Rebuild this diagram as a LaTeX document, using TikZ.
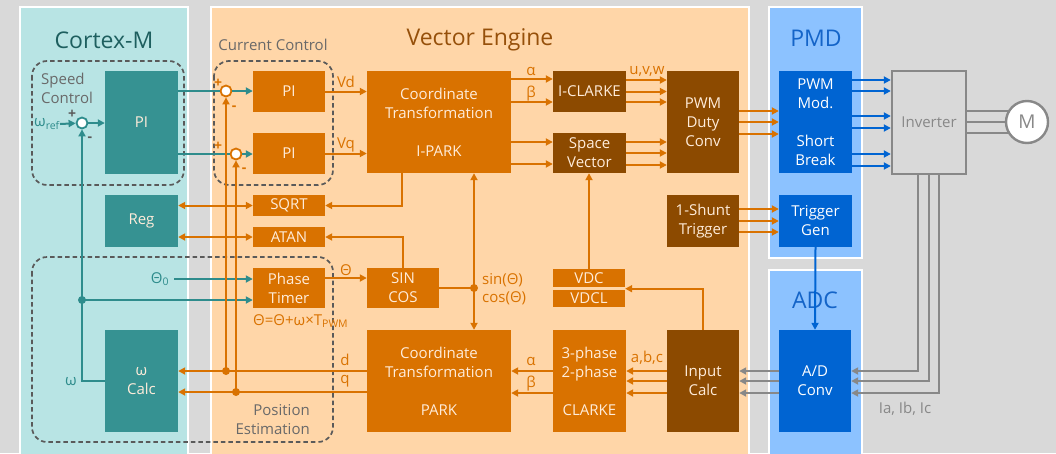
\documentclass[tikz,border=0pt]{standalone}
\usepackage{fontspec}
\setmainfont{Open Sans}
\usetikzlibrary{arrows.meta,calc}
\definecolor{orng}{RGB}{217,114,0}
\definecolor{brwn}{RGB}{140,74,0}
\definecolor{tealc}{RGB}{54,146,146}
\definecolor{tline}{RGB}{46,140,140}
\definecolor{bluec}{RGB}{0,100,210}
\definecolor{blight}{RGB}{140,194,255}
\definecolor{lteal}{RGB}{184,228,228}
\definecolor{peach}{RGB}{255,214,168}
\definecolor{bgc}{RGB}{217,217,217}
\definecolor{dgray}{RGB}{90,90,90}
\definecolor{lgtxt}{RGB}{105,105,105}
\definecolor{gline}{RGB}{136,136,136}
\definecolor{boxtxt}{RGB}{255,236,218}
\definecolor{vetitle}{RGB}{150,80,10}
\definecolor{cmtitle}{RGB}{30,95,95}
\definecolor{bltitle}{RGB}{20,100,200}
\begin{document}
\begin{tikzpicture}[x=1pt,y=-1pt,
  box/.style={draw=none, inner sep=0pt, align=center, text=boxtxt, font=\fontsize{15}{19}\selectfont},
  obox/.style={box, fill=orng},
  bbox/.style={box, fill=brwn},
  tbox/.style={box, fill=tealc},
  blbox/.style={box, fill=bluec, text=white},
  sz/.style 2 args={minimum width=#1, minimum height=#2},
  tip/.style={-{Triangle[length=7pt,width=7pt]}},
  oarrow/.style={draw=orng, line width=2pt, tip},
  oboth/.style={draw=orng, line width=2pt, {Triangle[length=7pt,width=7pt]}-{Triangle[length=7pt,width=7pt]}},
  oline/.style={draw=orng, line width=2pt},
  tarrow/.style={draw=tline, line width=2pt, tip},
  tlinest/.style={draw=tline, line width=2pt},
  barrow/.style={draw=bluec, line width=2pt, tip},
  garrow/.style={draw=gline, line width=2.4pt, tip},
  glinest/.style={draw=gline, line width=2.4pt},
  dbox/.style={draw=dgray, line width=1.7pt, dash pattern=on 4.5pt off 3pt, rounded corners=15pt},
  sumc/.style={circle, draw=#1, fill=white, line width=1.8pt, minimum size=11pt, inner sep=0pt},
  olab/.style={text=orng, font=\fontsize{15}{18}\selectfont, inner sep=0pt},
  tlab/.style={text=tline, font=\fontsize{15}{18}\selectfont, inner sep=0pt},
  glab/.style={text=lgtxt, font=\fontsize{15}{19}\selectfont, inner sep=0pt},
  sgn/.style={font=\bfseries\fontsize{14}{15}\selectfont, inner sep=0pt},
  title/.style={font=\fontsize{23}{26}\selectfont, inner sep=0pt},
  dotc/.style={circle, fill=#1, inner sep=0pt, minimum size=8pt}
]
\useasboundingbox (0,0) rectangle (1056,453);
\clip (0,0) rectangle (1056,453);
\fill[bgc] (0,0) rectangle (1056,453);
% panels
\draw[white, line width=2pt, fill=lteal] (20,7) rectangle (188,470);
\draw[white, line width=2pt, fill=peach] (211,7) rectangle (749,470);
\draw[white, line width=2pt, fill=blight] (769,7) rectangle (862,258);
\draw[white, line width=2pt, fill=blight] (769,270) rectangle (862,470);
\node[title, text=cmtitle] (tcm) at (104,40) {Cortex-M};
\node[title, text=vetitle] (tve) at (480,40) {Vector Engine};
\node[title, text=bltitle] (tpmd) at (816,38) {PMD};
\node[title, text=bltitle] (tadc) at (815,300) {ADC};

% dashed groups
\draw[dbox] (32,61) rectangle (184,185);
\draw[dbox] (214,61) rectangle (333,185);
\draw[dbox] (32,257) rectangle (333,442);
\node[glab, align=left, anchor=west] (lsc) at (41,88.5) {Speed\\Control};
\node[glab] (lcc) at (273,45) {Current Control};
\node[glab, align=right, anchor=east] (lpe) at (310,420) {Position\\Estimation};

% Cortex-M boxes
\node[tbox, sz={73pt}{103pt}] (spi) at (141.5,122.5) {PI};
\node[tbox, sz={73pt}{52pt}] (reg) at (141.5,221) {Reg};
\node[tbox, sz={73pt}{102pt}] (wcalc) at (141.5,381) {ω\\Calc};

% Vector engine boxes
\node[obox, sz={72pt}{41pt}] (pi1) at (289,91.5) {PI};
\node[obox, sz={72pt}{41pt}] (pi2) at (289,153.5) {PI};
\node[obox, sz={72pt}{21pt}] (sqrt) at (289,205.5) {SQRT};
\node[obox, sz={72pt}{20pt}] (atan) at (289,237) {ATAN};
\node[obox, sz={72pt}{40pt}] (ptimer) at (289,288) {Phase\\Timer};
\node[obox, sz={72pt}{40pt}] (sincos) at (403,288) {SIN\\COS};
\node[obox, sz={144pt}{102pt}] (ipark) at (439,122) {Coordinate\\Transformation\\[19pt]I-PARK};
\node[obox, sz={144pt}{102pt}] (park) at (439,381) {Coordinate\\Transformation\\[19pt]PARK};
\node[bbox, sz={73pt}{41pt}] (iclarke) at (589.5,91.5) {I-CLARKE};
\node[bbox, sz={73pt}{40pt}] (svec) at (589.5,153) {Space\\Vector};
\node[obox, sz={72pt}{18pt}] (vdc) at (589,278) {VDC};
\node[obox, sz={72pt}{17pt}] (vdcl) at (589,298.5) {VDCL};
\node[obox, sz={73pt}{102pt}] (clarke) at (589.5,381) {3-phase\\2-phase\\[19pt]CLARKE};
\node[bbox, sz={72pt}{102pt}] (pwmduty) at (703,122) {PWM\\Duty\\Conv};
\node[bbox, sz={72pt}{52pt}] (shunt) at (703,221) {1-Shunt\\Trigger};
\node[bbox, sz={72pt}{102pt}] (incalc) at (703,381) {Input\\Calc};

% PMD / ADC
\node[blbox, sz={73pt}{102pt}] (pwmmod) at (815.5,122) {PWM\\Mod.\\[19pt]Short\\Break};
\node[blbox, sz={73pt}{52pt}] (tgen) at (815.5,221) {Trigger\\Gen};
\node[blbox, sz={72pt}{102pt}] (adc) at (815,381) {A/D\\Conv};

% inverter and motor
\node[draw=gline, line width=2.4pt, fill=bgc, minimum width=74pt, minimum height=103pt, inner sep=0pt, text=gline, font=\fontsize{15}{19}\selectfont] (inv) at (929,122.5) {Inverter};
\node[circle, draw=gline, line width=2.4pt, fill=white, minimum size=42pt, inner sep=0pt, outer sep=0pt, text=gline, font=\fontsize{19}{22}\selectfont] (motor) at (1027,122) {M};

% summing junctions
\node[sumc=tline] (s0) at (82,123) {};
\node[sumc=orng] (s1) at (226,91) {};
\node[sumc=orng] (s2) at (236,154) {};

% speed loop
\node[tlab] (wref) at (47,124) {ω\textsubscript{ref}};
\draw[tarrow] (wref.east) -- (s0);
\draw[tarrow] (s0) -- (spi.west |- s0);
\node[sgn, text=dgray] (pl0) at (72,114) {+};
\node[sgn, text=dgray] (mi0) at (90,139) {-};
\coordinate (wd) at (82,300);
\draw[tarrow] (wcalc.west) -| (s0);
\node[dotc=tline] at (wd) {};
\draw[tarrow] (wd) -- (ptimer.west |- wd);
\node[tlab] (wlab) at (71,382) {ω};
\node[tlab] (th0) at (160,279) {Θ\textsubscript{0}};
\draw[tarrow] ([xshift=5pt]th0.east) -- (ptimer.west |- th0);

% to current PIs
\draw[tlinest] (spi.east |- s1) -- (s1);
\draw[tarrow] (s1) -- (pi1.west |- s1);
\draw[tlinest] (spi.east |- s2) -- (s2);
\draw[tarrow] (s2) -- (pi2.west |- s2);
\node[sgn, text=orng] (pl1) at (218,83) {+};
\node[sgn, text=orng] (mi1) at (234,108) {-};
\node[sgn, text=orng] (pl2) at (218,146) {+};
\node[sgn, text=orng] (mi2) at (244,170) {-};

% PI to I-PARK
\draw[oarrow] (pi1.east) -- (ipark.west |- pi1.east);
\draw[oarrow] (pi2.east) -- (ipark.west |- pi2.east);
\node[olab] (lvd) at (346,82) {Vd};
\node[olab] (lvq) at (346,145) {Vq};

% Reg <-> SQRT / ATAN
\draw[oboth] (reg.east |- sqrt.west) -- (sqrt.west);
\draw[oboth] (reg.east |- atan.west) -- (atan.west);
\draw[oarrow] ([xshift=-37pt]ipark.south) |- (sqrt.east);
\draw[oarrow] (sincos.north) |- (atan.east);

% phase timer -> sincos
\draw[oarrow] ([yshift=10pt]ptimer.east) -- ([yshift=10pt]ptimer.east -| sincos.west);
\node[olab] (lth) at (346,270) {Θ};
\node[olab, anchor=west] (leq) at (253,321) {Θ=Θ+ω×T\textsubscript{PWM}};
\coordinate (jn) at (474,288);
\draw[oline] (sincos.east) -- (jn);
\draw[oarrow] (jn) -- (jn |- ipark.south);
\draw[oarrow] (jn) -- (jn |- park.north);
\node[dotc=orng] at (jn) {};
\node[olab, align=left, anchor=west] (lsc2) at (482,289) {sin(Θ)\\cos(Θ)};

% I-PARK -> I-CLARKE / Space Vector
\draw[oarrow] ([yshift=43pt]ipark.east) -- ([yshift=43pt]ipark.east -| iclarke.west);
\draw[oarrow] ([yshift=20pt]ipark.east) -- ([yshift=20pt]ipark.east -| iclarke.west);
\draw[oarrow] ([yshift=-20pt]ipark.east) -- ([yshift=-20pt]ipark.east -| svec.west);
\draw[oarrow] ([yshift=-42pt]ipark.east) -- ([yshift=-42pt]ipark.east -| svec.west);
\node[olab] (la1) at (531,71) {α};
\node[olab] (lb1) at (531,94) {β};

% to PWM duty
\foreach \d in {11.5,0,-10.5} \draw[oarrow] ([yshift=\d pt]iclarke.east) -- ([yshift=\d pt]iclarke.east -| pwmduty.west);
\foreach \d in {11,0,-12} \draw[oarrow] ([yshift=\d pt]svec.east) -- ([yshift=\d pt]svec.east -| pwmduty.west);
\node[olab] (luvw) at (647,71) {u,v,w};

% VDC
\draw[oarrow] (vdc.north) -- (vdc.north |- svec.south);
\draw[oarrow] (incalc.north) |- ([yshift=-1.5pt]vdc.south east);

% input calc -> clarke -> park
\foreach \d in {10,0,-12} \draw[oarrow] ([yshift=\d pt]incalc.west) -- ([yshift=\d pt]incalc.west -| clarke.east);
\node[olab] (labc) at (647,358) {a,b,c};
\draw[oarrow] ([yshift=10pt]clarke.west) -- ([yshift=10pt]clarke.west -| park.east);
\draw[oarrow] ([yshift=-12pt]clarke.west) -- ([yshift=-12pt]clarke.west -| park.east);
\node[olab] (la2) at (531,361) {α};
\node[olab] (lb2) at (531,384) {β};

% park -> omega calc
\draw[oarrow] ([yshift=10pt]park.west) -- ([yshift=10pt]park.west -| wcalc.east);
\draw[oarrow] ([yshift=-11pt]park.west) -- ([yshift=-11pt]park.west -| wcalc.east);
\node[olab] (ld) at (345,360) {d};
\node[olab] (lq) at (345,381) {q};
\coordinate (dd) at (226,371);
\coordinate (qd) at (236,392);
\draw[oarrow] (dd) -- (s1);
\draw[oarrow] (qd) -- (s2);
\node[dotc=orng] at (dd) {};
\node[dotc=orng] at (qd) {};

% PWM duty -> PWM mod, shunt -> trigger gen
\foreach \d in {11,0,-12} \draw[oarrow] ([yshift=\d pt]pwmduty.east) -- ([yshift=\d pt]pwmduty.east -| pwmmod.west);
\foreach \d in {12,0,-11} \draw[oarrow] ([yshift=\d pt]shunt.east) -- ([yshift=\d pt]shunt.east -| tgen.west);

% PMD -> inverter
\foreach \d in {42,31,6,-6,-32,-44} \draw[barrow] ([yshift=\d pt]pwmmod.east) -- ([yshift=\d pt]pwmmod.east -| inv.west);
\draw[barrow] (tgen.south) -- (adc.north);

% inverter -> motor
\draw[glinest] (inv.east |- motor.148) -- (motor.148);
\draw[glinest] (inv.east |- motor.west) -- (motor.west);
\draw[glinest] (inv.east |- motor.212) -- (motor.212);

% inverter -> ADC
\draw[garrow] ([xshift=-11pt]inv.south) |- ([yshift=10pt]adc.east);
\draw[garrow] (inv.south) |- (adc.east);
\draw[garrow] ([xshift=10pt]inv.south) |- ([yshift=-12pt]adc.east);
\node[glab, text=gline] (liabc) at (905,409) {Ia, Ib, Ic};

% ADC -> input calc
\foreach \d in {10,0,-12} \draw[garrow] ([yshift=\d pt]adc.west) -- ([yshift=\d pt]adc.west -| incalc.east);
\end{tikzpicture}
\end{document}
